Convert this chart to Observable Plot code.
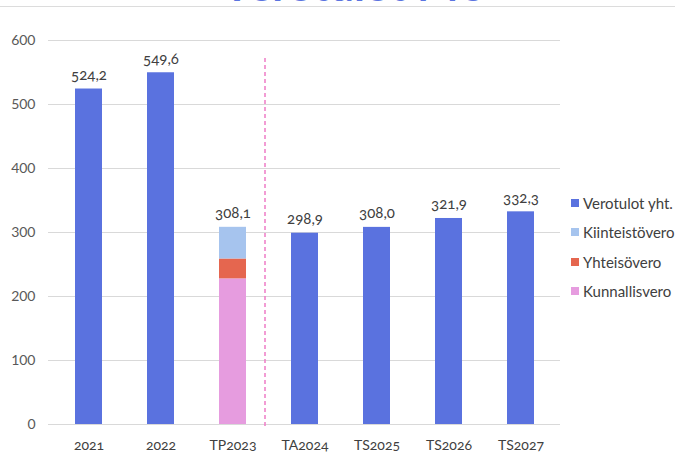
<!DOCTYPE html>
<html>
<head>
<meta charset="utf-8">
<script src="https://cdn.jsdelivr.net/npm/d3@7"></script>
<script src="https://cdn.jsdelivr.net/npm/@observablehq/plot@0.6"></script>
<style>
  html, body { margin: 0; padding: 0; background: #fff; }
  #wrap { position: relative; width: 675px; height: 454px; overflow: hidden; font-family: Lato, "Open Sans", sans-serif; font-variant-numeric: oldstyle-nums; }
  #title { position: absolute; top: -38px; left: 352px; transform: translateX(-50%); font-size: 44px; line-height: 44px; font-weight: 700; color: #5B74E0; white-space: nowrap; }
  #topline { position: absolute; top: 6px; left: 0; width: 675px; height: 1px; background: #dcdcdc; }
  #chart { position: absolute; top: 0; left: 0; }
  #legend { position: absolute; left: 571px; top: 188px; }
  .item { display: flex; align-items: center; height: 29.5px; font-size: 15px; color: #404040; white-space: nowrap; }
  .sw { width: 8px; height: 8px; margin-right: 4px; }
</style>
</head>
<body>
<div id="wrap">
  <div id="chart"></div>
  <div id="title">Verotulot M€</div>
  <div id="topline"></div>
  <div id="legend"></div>
</div>
<script>
const categories = ["2021", "2022", "TP2023", "TA2024", "TS2025", "TS2026", "TS2027"];
const totalSeries = "Verotulot yht.";
const totalValues = [524.2, 549.6, null, 298.9, 308.0, 321.9, 332.3];
const breakdownCategory = "TP2023";
const breakdownSeries = ["Kunnallisvero", "Yhteisövero", "Kiinteistövero"];
const breakdownValues = [227.6, 31.0, 49.5];
const labelValues = [524.2, 549.6, 308.1, 298.9, 308.0, 321.9, 332.3];
const yTicks = [0, 100, 200, 300, 400, 500, 600];
const legendSeries = ["Verotulot yht.", "Kiinteistövero", "Yhteisövero", "Kunnallisvero"];
const legendColors = ["#5A72DF", "#A6C4EE", "#E5664F", "#E69CDF"];

const rows = [];
categories.forEach((c, i) => {
  if (totalValues[i] != null) rows.push({category: c, series: totalSeries, value: totalValues[i]});
  if (c === breakdownCategory) breakdownSeries.forEach((s, j) => rows.push({category: c, series: s, value: breakdownValues[j]}));
});
const labels = categories.map((c, i) => ({category: c, value: labelValues[i]}));
const fmt = v => d3.format(".1f")(v).replace(".", ",");

const plot = Plot.plot({
  width: 675,
  height: 454,
  marginTop: 40,
  marginBottom: 30,
  marginLeft: 48,
  marginRight: 115,
  style: {fontFamily: "Lato, 'Open Sans', sans-serif", fontSize: "13px", color: "#595959", background: "transparent", fontVariantNumeric: "oldstyle-nums"},
  x: {domain: categories, paddingInner: 0.63, paddingOuter: 0.34, label: null},
  y: {domain: [0, 600], label: null},
  color: {domain: legendSeries, range: legendColors},
  marks: [
    Plot.gridY(yTicks, {stroke: "#d9d9d9", strokeOpacity: 1}),
    Plot.barY(rows, {x: "category", y: "value", fill: "series"}),
    Plot.ruleX([breakdownCategory], {dx: 32, stroke: "#EE7CC6", strokeDasharray: "4,3", strokeWidth: 1.5, insetTop: 18, insetBottom: -4}),
    Plot.text(labels, {x: "category", y: "value", text: d => fmt(d.value), dy: -9, lineAnchor: "bottom", fontSize: 15, fill: "#404040"}),
    Plot.axisY(yTicks, {tickSize: 0, tickPadding: 13, fontSize: 14, fill: "#595959", label: null}),
    Plot.axisX({tickSize: 0, tickPadding: 16, fontSize: 14, fill: "#404040", label: null})
  ]
});
document.getElementById("chart").appendChild(plot);

const legend = document.getElementById("legend");
legendSeries.forEach((s, i) => {
  const item = document.createElement("div");
  item.className = "item";
  const sw = document.createElement("span");
  sw.className = "sw";
  sw.style.background = legendColors[i];
  item.appendChild(sw);
  item.appendChild(document.createTextNode(s));
  legend.appendChild(item);
});
</script>
</body>
</html>
